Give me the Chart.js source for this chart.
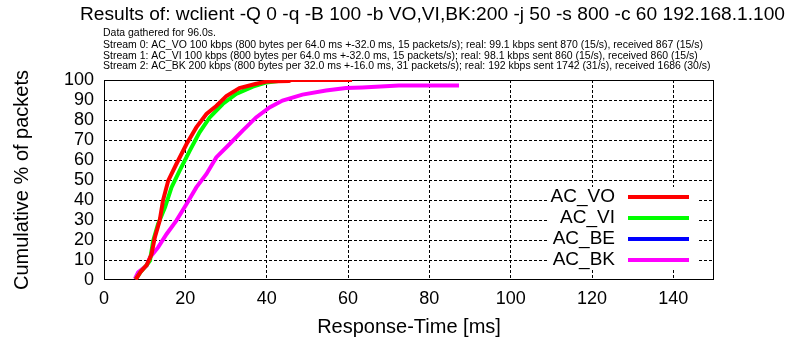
<!DOCTYPE html>
<html>
<head>
<meta charset="utf-8">
<script src="https://cdn.jsdelivr.net/npm/chart.js@4.4.0/dist/chart.umd.min.js"></script>
<style>
  html, body { margin: 0; padding: 0; background: #fff; }
  #wrap { width: 791px; height: 345px; position: relative; }
</style>
</head>
<body>
<div id="wrap"><canvas id="cdf"></canvas></div>
<script>
// ── Data ─────────────────────────────────────────────────────────────────────
const TITLE = 'Results of: wclient -Q 0 -q -B 100 -b VO,VI,BK:200 -j 50 -s 800 -c 60 192.168.1.100';
const INFO_LINES = [
  'Data gathered for 96.0s.',
  'Stream 0: AC_VO 100 kbps (800 bytes per 64.0 ms +-32.0 ms, 15 packets/s); real: 99.1 kbps sent 870 (15/s), received 867 (15/s)',
  'Stream 1: AC_VI 100 kbps (800 bytes per 64.0 ms +-32.0 ms, 15 packets/s); real: 98.1 kbps sent 860 (15/s), received 860 (15/s)',
  'Stream 2: AC_BK 200 kbps (800 bytes per 32.0 ms +-16.0 ms, 31 packets/s); real: 192 kbps sent 1742 (31/s), received 1686 (30/s)',
];

const SERIES = ['AC_VO', 'AC_VI', 'AC_BE', 'AC_BK'];
const COLORS = ['#ff0000', '#00ff00', '#0000ff', '#ff00ff'];

const X_TICKS = [0, 20, 40, 60, 80, 100, 120, 140];
const Y_TICKS = [0, 10, 20, 30, 40, 50, 60, 70, 80, 90, 100];

// response time [ms] / cumulative %
const voX = [7.8, 9, 10.5, 11.3, 11.7, 12.5, 13.7, 14.5, 15.8, 17.8, 20.3, 22.7, 25.2, 27.6, 30.1, 33.3, 37.2, 40, 45.5, 46, 61];
const voY = [0.3, 4, 7.5, 11, 13, 21.3, 29.7, 39.7, 49.7, 58, 68, 76.3, 83, 87, 92, 96, 98, 99.2, 99.5, 100, 100];

const viX = [7.8, 9, 10.5, 11.3, 12.1, 13.3, 15, 16.6, 18.6, 21.1, 23.5, 26, 29.2, 32.5, 36.6, 40, 44.8, 60];
const viY = [0.3, 4, 7.5, 9.7, 19.7, 28, 36.3, 46.3, 54.7, 64.7, 73.8, 81.3, 88, 93, 96.7, 98.8, 100, 100];

const beX = [];
const beY = [];

const bkX = [7.6, 8.4, 10.5, 11.3, 13.3, 15.4, 17.8, 20.3, 22.7, 25.2, 27.6, 30.9, 34.1, 37.4, 40.7, 43.9, 48.8, 54.6, 59.5, 63.5, 72.5, 87.3];
const bkY = [0.5, 3.8, 7.2, 11.3, 16.3, 23, 29.7, 38, 46.3, 53, 61.3, 68, 74.7, 81.3, 86.3, 89.7, 92.7, 94.7, 96, 96.3, 97.3, 97.3];

// ── Helpers ──────────────────────────────────────────────────────────────────
const FONT = "'Liberation Sans', Arial, sans-serif";
const pts = (xs, ys) => xs.map((x, i) => ({ x, y: ys[i] }));
const seriesData = [pts(voX, voY), pts(viX, viY), pts(beX, beY), pts(bkX, bkY)];

// draw text stretched horizontally by factor sx
function stretchText(ctx, text, x, y, sx) {
  ctx.save();
  ctx.translate(x, y);
  ctx.scale(sx, 1);
  ctx.fillText(text, 0, 0);
  ctx.restore();
}

// Title, info lines, frame and key, drawn the gnuplot way
const gnuplotDecor = {
  id: 'gnuplotDecor',
  beforeDatasetsDraw(chart) {
    const { ctx, chartArea: a } = chart;
    ctx.save();
    ctx.strokeStyle = '#000';
    ctx.lineWidth = 1;
    ctx.strokeRect(a.left + 0.5, a.top + 0.5, a.right - a.left - 1, a.bottom - a.top - 1);
    ctx.restore();
  },
  afterDatasetsDraw(chart) {
    const { ctx } = chart;
    ctx.save();
    ctx.fillStyle = '#000';
    ctx.textBaseline = 'middle';
    ctx.textAlign = 'left';

    ctx.font = '18px ' + FONT;
    stretchText(ctx, TITLE, 80, 15, 705 / ctx.measureText(TITLE).width);

    ctx.font = '10px ' + FONT;
    const sx = 600 / ctx.measureText(INFO_LINES[1]).width;
    const infoY = [33, 45, 56, 66.5];
    INFO_LINES.forEach((t, i) => stretchText(ctx, t, 103, infoY[i], sx));

    // key box
    ctx.fillStyle = '#fff';
    ctx.fillRect(547, 187, 151, 83);
    ctx.font = '19px ' + FONT;
    ctx.textAlign = 'right';
    SERIES.forEach((name, i) => {
      const y = 197 + i * 21;
      ctx.fillStyle = '#000';
      ctx.fillText(name, 615, y);
      ctx.strokeStyle = COLORS[i];
      ctx.lineWidth = 4;
      ctx.beginPath();
      ctx.moveTo(628, y);
      ctx.lineTo(689, y);
      ctx.stroke();
    });
    ctx.restore();
  }
};

const GRID = {
  lineWidth: 1,
  drawTicks: false,
};
const TICK_FONT = { family: FONT, size: 18 };

new Chart(document.getElementById('cdf'), {
  type: 'scatter',
  data: {
    datasets: SERIES.map((name, i) => ({
      label: name,
      data: seriesData[i],
      showLine: true,
      borderColor: COLORS[i],
      backgroundColor: COLORS[i],
      borderWidth: 4,
      pointRadius: 0,
      tension: 0,
      fill: false,
    }))
  },
  options: {
    responsive: true,
    maintainAspectRatio: false,
    animation: false,
    layout: { padding: { top: 80, right: 77, left: 0, bottom: 0 } },
    scales: {
      x: {
        type: 'linear',
        min: 0, max: 150,
        afterBuildTicks: s => { s.ticks = X_TICKS.map(v => ({ value: v })); },
        afterFit: s => { s.height = 65; },
        border: { display: false, dash: [3, 2] },
        grid: { ...GRID, color: c => (c.tick && c.tick.value === 0) ? 'rgba(0,0,0,0)' : '#000' },
        ticks: { color: '#000', font: TICK_FONT, padding: 8, maxRotation: 0, autoSkip: false },
        title: { display: true, text: 'Response-Time [ms]', color: '#000', font: { family: FONT, size: 20 }, padding: { top: 0, bottom: 6 } },
      },
      y: {
        type: 'linear',
        min: 0, max: 100,
        afterBuildTicks: s => { s.ticks = Y_TICKS.map(v => ({ value: v })); },
        afterFit: s => { s.width = 104; },
        border: { display: false, dash: [3, 2] },
        grid: { ...GRID, color: c => (c.tick && (c.tick.value === 0 || c.tick.value === 100)) ? 'rgba(0,0,0,0)' : '#000' },
        ticks: { color: '#000', font: TICK_FONT, padding: 10, autoSkip: false },
        title: { display: true, text: 'Cumulative % of packets', color: '#000', font: { family: FONT, size: 20 }, padding: { top: 10, bottom: 0 } },
      }
    },
    plugins: {
      legend: { display: false },
      tooltip: { enabled: false },
    }
  },
  plugins: [gnuplotDecor]
});
</script>
</body>
</html>
